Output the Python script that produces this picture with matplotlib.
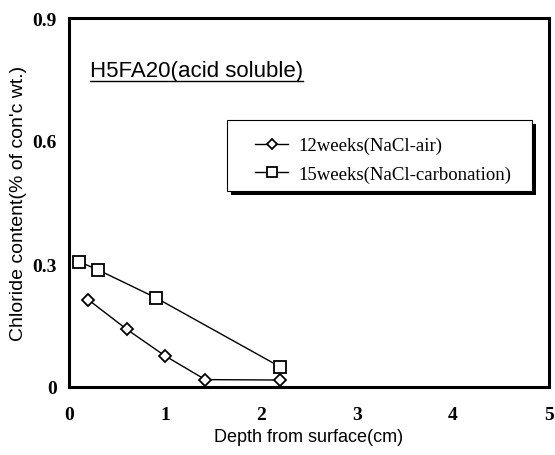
import matplotlib
matplotlib.use("Agg")
import matplotlib.pyplot as plt
from matplotlib.lines import Line2D
from matplotlib.patches import Rectangle

# data
depth_air = [0.2, 0.6, 1.0, 1.42, 2.2]
cl_air = [0.213, 0.141, 0.076, 0.018, 0.017]
depth_carb = [0.1, 0.3, 0.91, 2.2]
cl_carb = [0.306, 0.286, 0.217, 0.049]
label_air = "12weeks(NaCl-air)"
label_carb = "15weeks(NaCl-carbonation)"
xticks = [0, 1, 2, 3, 4, 5]
yticks = [0, 0.3, 0.6, 0.9]
yticklabels = ["0", "0.3", "0.6", "0.9"]

W, H = 555, 456
fig = plt.figure(figsize=(W / 100, H / 100), dpi=100)
ax = fig.add_axes([69 / W, 68 / H, 480 / W, 369 / H])

ax.plot(depth_air, cl_air, color="black", lw=1.0, marker="D", markersize=6,
        markerfacecolor="white", markeredgecolor="black", markeredgewidth=1.3,
        label=label_air)
ax.plot(depth_carb, cl_carb, color="black", lw=1.0, marker="s", markersize=9,
        markerfacecolor="white", markeredgecolor="black", markeredgewidth=1.3,
        label=label_carb)

ax.set_xlim(0, 5)
ax.set_ylim(0, 0.9)
ax.set_xticks(xticks)
ax.set_yticks(yticks)
ax.set_xticklabels([str(t) for t in xticks], fontfamily="Liberation Serif",
                   fontweight="bold", fontsize=14)
ax.set_yticklabels(yticklabels, fontfamily="Liberation Serif",
                   fontweight="bold", fontsize=14)
ax.tick_params(axis="x", length=0, pad=14)
ax.tick_params(axis="y", length=0, pad=9)
for s in ax.spines.values():
    s.set_linewidth(2.2)

ax.set_xlabel("Depth from surface(cm)", fontfamily="Liberation Sans",
              fontsize=13, labelpad=3)
ax.set_ylabel("Chloride content(% of con'c wt.)", fontfamily="Liberation Sans",
              fontsize=14, labelpad=4)

title = fig.text(90 / W, 1 - 72 / H, "H5FA20(acid soluble)",
                 fontfamily="Liberation Sans", fontsize=16, va="center", ha="left")

# legend box with a solid drop shadow
fig.add_artist(Rectangle((231 / W, 1 - 196 / H), 305 / W, 71 / H,
                         transform=fig.transFigure, facecolor="black",
                         edgecolor="none", zorder=4))
fig.add_artist(Rectangle((227 / W, 1 - 192 / H), 305 / W, 71 / H,
                         transform=fig.transFigure, facecolor="white",
                         edgecolor="black", lw=0.8, zorder=5))
leg = ax.legend(loc="center left", bbox_to_anchor=(255 / W, 1 - 161 / H),
                bbox_transform=fig.transFigure,
                prop={"family": "Liberation Serif", "size": 13.5},
                frameon=False, handlelength=1.76, handletextpad=0.55,
                labelspacing=0.6, borderpad=0, borderaxespad=0, markerscale=0.85)
leg.set_zorder(6)
fig.add_artist(leg)

# underline the title
fig.canvas.draw()
bb = title.get_window_extent().transformed(fig.transFigure.inverted())
fig.add_artist(Line2D([bb.x0, bb.x1], [bb.y0 + 0.002, bb.y0 + 0.002],
                      transform=fig.transFigure, color="black", lw=1.0))

fig.savefig("out.png", dpi=100)
